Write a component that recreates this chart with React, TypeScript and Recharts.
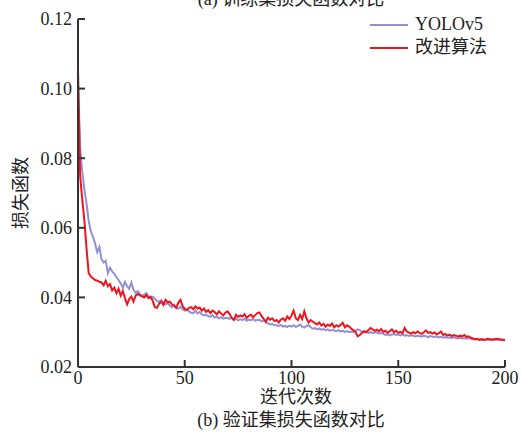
import { LineChart, Line, XAxis, YAxis } from "recharts";

// validation loss per epoch, epochs 0..200
const yolov5Loss = [
  0.102, 0.083, 0.076, 0.071, 0.067, 0.062, 0.059, 0.0575, 0.0555, 0.053,
  0.0545, 0.051, 0.050, 0.0505, 0.047, 0.0485, 0.0475, 0.0468, 0.0458, 0.045,
  0.044, 0.0428, 0.0445, 0.0432, 0.0425, 0.0442, 0.0422, 0.0413, 0.0418, 0.041,
  0.0405, 0.0408, 0.0412, 0.0403, 0.0398, 0.0402, 0.0396, 0.039, 0.0387, 0.0392,
  0.0385, 0.038, 0.0384, 0.0377, 0.0372, 0.0379, 0.037, 0.0368, 0.0373, 0.0366,
  0.0362, 0.0365, 0.036, 0.0356, 0.0355, 0.0362, 0.0354, 0.0358, 0.0352, 0.0348,
  0.035, 0.0346, 0.0344, 0.0349, 0.0342, 0.0345, 0.034, 0.0343, 0.0339, 0.0341,
  0.0341, 0.0338, 0.0342, 0.0336, 0.0339, 0.0334, 0.0337, 0.0335, 0.0338, 0.0333,
  0.0336, 0.0334, 0.0338, 0.0333, 0.0335, 0.0335, 0.0331, 0.0334, 0.0328, 0.0325,
  0.0322, 0.0324, 0.032, 0.032, 0.0318, 0.0321, 0.0316, 0.0318, 0.0315, 0.0319,
  0.0316, 0.032, 0.0315, 0.0318, 0.0322, 0.0316, 0.0313, 0.0318, 0.032, 0.0314,
  0.031, 0.0312, 0.0308, 0.0311, 0.0307, 0.0309, 0.0306, 0.0308, 0.0304, 0.0307,
  0.0305, 0.0303, 0.0306, 0.0302, 0.0304, 0.0301, 0.0303, 0.03, 0.0302, 0.03,
  0.0304, 0.0308, 0.0306, 0.0301, 0.0299, 0.0302, 0.0298, 0.03, 0.0297, 0.0299,
  0.03, 0.0296, 0.0298, 0.0295, 0.0292, 0.0294, 0.0291, 0.0293, 0.0295, 0.0292,
  0.0294, 0.0291, 0.0293, 0.029, 0.0292, 0.0289, 0.0291, 0.029, 0.0288, 0.029,
  0.0289, 0.0287, 0.029, 0.0288, 0.0286, 0.0289, 0.0287, 0.0286, 0.0288, 0.0285,
  0.0287, 0.0284, 0.0286, 0.0284, 0.0285, 0.0283, 0.0285, 0.0283, 0.0282, 0.0284,
  0.0282, 0.0283, 0.0281, 0.0283, 0.0281, 0.028, 0.0279, 0.028, 0.0278, 0.0279,
  0.0278, 0.0279, 0.0278, 0.0279, 0.0278, 0.0279, 0.0278, 0.0279, 0.0278, 0.0278,
  0.0277,
];

const improvedLoss = [
  0.106, 0.075, 0.068, 0.062, 0.054, 0.047, 0.046, 0.0455, 0.045, 0.0448,
  0.0445, 0.0443, 0.0435, 0.0448, 0.0432, 0.0438, 0.042, 0.0428, 0.0412, 0.0425,
  0.0405, 0.0418, 0.0398, 0.038, 0.0395, 0.0402, 0.0388, 0.0405, 0.041, 0.0406,
  0.0403, 0.04, 0.0407, 0.0398, 0.0402, 0.039, 0.0372, 0.037, 0.0382, 0.0388,
  0.0378, 0.0393, 0.0386, 0.0388, 0.038, 0.0376, 0.037, 0.0385, 0.0393, 0.0375,
  0.0367, 0.0364, 0.037, 0.0372, 0.0366, 0.0374, 0.0368, 0.0371, 0.0362, 0.0368,
  0.0358, 0.0364, 0.0355, 0.0362, 0.0358, 0.0351, 0.036, 0.0354, 0.0348, 0.0356,
  0.036, 0.0352, 0.0341, 0.0335, 0.035, 0.0344, 0.0348, 0.0345, 0.0352, 0.0341,
  0.0347, 0.035, 0.0343, 0.0349, 0.0355, 0.0357, 0.0346, 0.0338, 0.033, 0.0342,
  0.0336, 0.034, 0.0332, 0.0335, 0.0328, 0.0336, 0.034, 0.0333, 0.0345, 0.0338,
  0.0348, 0.0362, 0.034, 0.0335, 0.035, 0.0338, 0.036, 0.034, 0.0328, 0.0335,
  0.033, 0.0326, 0.0322, 0.0328, 0.0319, 0.0324, 0.0316, 0.0322, 0.0318, 0.0325,
  0.0314, 0.032, 0.0316, 0.0321, 0.0327, 0.0314, 0.032, 0.0316, 0.031, 0.0306,
  0.03, 0.0288, 0.0292, 0.0298, 0.0303, 0.03, 0.0306, 0.0312, 0.0308, 0.0304,
  0.0307, 0.0303, 0.0309, 0.0301, 0.0304, 0.0298, 0.0303, 0.0308, 0.03, 0.0304,
  0.0298, 0.0301, 0.0297, 0.0312, 0.0302, 0.0299, 0.0296, 0.03, 0.0297, 0.0302,
  0.0298, 0.0295, 0.03, 0.0305, 0.0298, 0.03, 0.0296, 0.0299, 0.0294, 0.0297,
  0.0302, 0.0292, 0.0295, 0.029, 0.0293, 0.0289, 0.0292, 0.029, 0.0287, 0.029,
  0.0288, 0.0292, 0.0286, 0.0288, 0.0284, 0.0282, 0.028, 0.0281, 0.0278, 0.028,
  0.0278, 0.0279, 0.0281, 0.0279, 0.028, 0.0279, 0.0281, 0.028, 0.0279, 0.0278,
  0.0277,
];

const xTicks = [0, 50, 100, 150, 200];
const yTicks = [0.02, 0.04, 0.06, 0.08, 0.1, 0.12];

const data = yolov5Loss.map((v, i) => ({
  epoch: i,
  yolov5: v,
  improved: improvedLoss[i],
}));

const BLUE = "#9191d4";
const RED = "#f0141e";
const AXIS = "#333333";
const serif = "'Liberation Serif', 'Times New Roman', serif";
const cjk = "'Liberation Serif', 'Noto Sans CJK SC', serif";

const legendItems = [
  { label: "YOLOv5", color: BLUE },
  { label: "改进算法", color: RED },
];

const textStyle = {
  position: "absolute" as const,
  fontFamily: cjk,
  fontSize: 18,
  lineHeight: "16px",
  color: "#222",
  whiteSpace: "nowrap" as const,
};

// legend drawn as a plain overlay so it doesn't shrink the plot area
function LegendBox() {
  return (
    <div
      style={{
        position: "absolute",
        left: 370,
        top: 13,
        fontFamily: cjk,
        fontSize: 18,
        color: "#222",
        lineHeight: "23px",
      }}
    >
      {legendItems.map((it) => (
        <div key={it.label} style={{ display: "flex", alignItems: "center" }}>
          <span
            style={{
              display: "inline-block",
              width: 38,
              height: 2,
              background: it.color,
              marginRight: 7,
            }}
          />
          <span>{it.label}</span>
        </div>
      ))}
    </div>
  );
}

export default function App() {
  return (
    <div
      style={{
        position: "absolute",
        left: 0,
        top: 0,
        width: 522,
        height: 437,
        background: "#fff",
        overflow: "hidden",
      }}
    >
      <div style={{ ...textStyle, top: -9, left: 0, width: 582, textAlign: "center" }}>
        (a) 训练集损失函数对比
      </div>
      <LineChart
        width={522}
        height={437}
        data={data}
        margin={{ top: 19, right: 17, bottom: 0, left: 0 }}
      >
        <XAxis
          dataKey="epoch"
          type="number"
          domain={[0, 200]}
          ticks={xTicks}
          height={70}
          interval={0}
          stroke={AXIS}
          strokeWidth={2}
          tickSize={-7}
          tickMargin={11}
          tick={{ fill: "#222", fontSize: 18, fontFamily: serif }}
        />
        <YAxis
          type="number"
          domain={[0.02, 0.12]}
          ticks={yTicks}
          width={78}
          interval={0}
          allowDataOverflow
          stroke={AXIS}
          strokeWidth={2}
          tickSize={-7}
          tickMargin={13}
          tickFormatter={(v: number) => v.toFixed(2)}
          tick={{ fill: "#222", fontSize: 18, fontFamily: serif }}
        />
        <Line
          type="linear"
          dataKey="yolov5"
          stroke={BLUE}
          strokeWidth={2}
          dot={false}
          isAnimationActive={false}
        />
        <Line
          type="linear"
          dataKey="improved"
          stroke={RED}
          strokeWidth={2}
          dot={false}
          isAnimationActive={false}
        />
      </LineChart>
      <LegendBox />
      <div
        style={{
          ...textStyle,
          left: 21,
          top: 193,
          transform: "translate(-50%, -50%) rotate(-90deg)",
        }}
      >
        损失函数
      </div>
      <div style={{ ...textStyle, left: 0, top: 389, width: 592, textAlign: "center" }}>
        迭代次数
      </div>
      <div style={{ ...textStyle, left: 0, top: 412, width: 582, textAlign: "center" }}>
        (b) 验证集损失函数对比
      </div>
    </div>
  );
}
